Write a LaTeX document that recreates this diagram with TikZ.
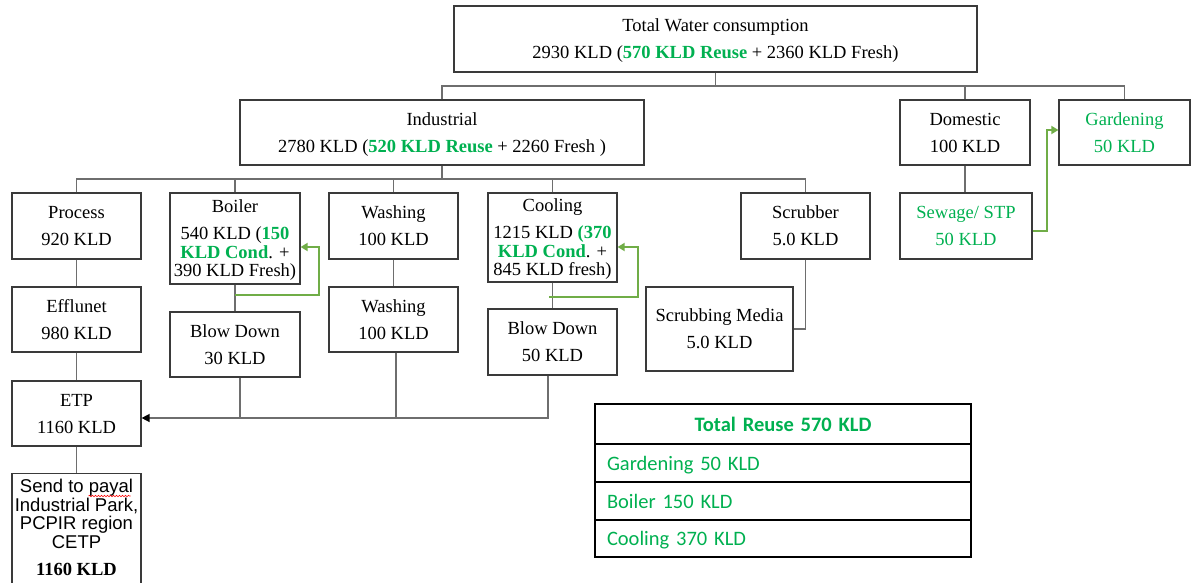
\documentclass[tikz,border=0pt]{standalone}
\usepackage{fontspec}
\setmainfont{Liberation Serif}
\newfontfamily\calibri{Carlito}
\newfontfamily\arial{Liberation Sans}
\usetikzlibrary{arrows.meta,decorations.pathmorphing}

\definecolor{reuse}{HTML}{00B050}
\definecolor{loopgreen}{HTML}{70AD47}
\definecolor{edgegray}{HTML}{3A3A3A}
\definecolor{wiregray}{HTML}{6E6E6E}

\tikzset{
  box/.style={draw=edgegray, line width=1.2pt, align=center, inner sep=0pt,
              text depth=0pt, font=\fontsize{18.5}{18.5}\selectfont},
  wire/.style={draw=wiregray, line width=1.4pt},
  loopline/.style={draw=loopgreen, line width=1.8pt,
                   -{Triangle[length=7pt,width=8pt]}},
  trow/.style={draw=black, line width=1.6pt, anchor=north west, outer sep=0pt,
               inner xsep=12pt, inner ysep=0pt, text width=352pt, align=left,
               text depth=0pt, text=reuse,
               font=\calibri\fontsize{20.5}{20.5}\selectfont},
}
\newcommand{\gb}[1]{{\color{reuse}\bfseries #1}}

\begin{document}
\begin{tikzpicture}[x=1pt,y=-1pt]
\useasboundingbox (0,0) rectangle (1194,583);

% ---- top level
\node[box, minimum width=523, minimum height=66] (top) at (715.5,39)
  {Total Water consumption\\[8.5pt]2930 KLD (\gb{570 KLD Reuse} + 2360 KLD Fresh)};

% ---- second level
\node[box, minimum width=404, minimum height=65] (ind) at (442,132.5)
  {Industrial\\[8.5pt]2780 KLD (\gb{520 KLD Reuse} + 2260 Fresh )};
\node[box, minimum width=130, minimum height=65] (dom) at (965,132.5)
  {Domestic\\[8.5pt]100 KLD};
\node[box, minimum width=131, minimum height=65, text=reuse] (gard) at (1124.5,132.5)
  {Gardening\\[8.5pt]50 KLD};

% ---- industrial consumers
\node[box, minimum width=129, minimum height=66] (proc) at (76.5,226)
  {Process\\[8.5pt]920 KLD};
\node[box, minimum width=130, minimum height=91] (boil) at (235,238.5)
  {Boiler\\[8.5pt]540 KLD (\gb{150}\\\gb{KLD Cond}. +\\390 KLD Fresh)};
\node[box, minimum width=129, minimum height=66] (wash1) at (393.5,226)
  {Washing\\[8.5pt]100 KLD};
\node[box, minimum width=129, minimum height=89] (cool) at (552.5,237.5)
  {Cooling\\[8.5pt]1215 KLD \gb{(370}\\\gb{KLD Cond}. +\\845 KLD fresh)};
\node[box, minimum width=129, minimum height=66] (scrub) at (805.5,226)
  {Scrubber\\[8.5pt]5.0 KLD};
\node[box, minimum width=132, minimum height=66, text=reuse] (sew) at (966,226)
  {Sewage/ STP\\[8.5pt]50 KLD};

% ---- outputs
\node[box, minimum width=129, minimum height=65] (eff) at (76.5,319.5)
  {Efflunet\\[8.5pt]980 KLD};
\node[box, minimum width=130, minimum height=65] (blow1) at (235,344.5)
  {Blow Down\\[8.5pt]30 KLD};
\node[box, minimum width=129, minimum height=65] (wash2) at (393.5,319.5)
  {Washing\\[8.5pt]100 KLD};
\node[box, minimum width=129, minimum height=66] (blow2) at (552.5,342)
  {Blow Down\\[8.5pt]50 KLD};
\node[box, minimum width=147, minimum height=84] (media) at (719.5,329)
  {Scrubbing Media\\[8.5pt]5.0 KLD};
\node[box, minimum width=129, minimum height=65] (etp) at (76.5,413.5)
  {ETP\\[8.5pt]1160 KLD};

% ---- disposal box (runs off the lower edge)
\node[box, minimum width=129, minimum height=130, anchor=north] (sendbox) at (76.5,473) {};
\node[anchor=north, align=center, inner sep=0pt,
      font=\arial\fontsize{18.5}{18.5}\selectfont] (sendtxt) at (76.5,479)
  {Send to payal\\Industrial Park,\\PCPIR region\\CETP\\[9pt]%
   {\rmfamily\bfseries 1160 KLD}};
\draw[red, line width=0.6pt, decorate,
      decoration={snake, amplitude=0.7pt, segment length=3pt}]
  ([xshift=12pt,yshift=-17pt]sendtxt.north) -- ([xshift=54pt,yshift=-17pt]sendtxt.north);

% ---- tree connectors
\coordinate (busA) at (0,86);
\coordinate (busB) at (0,179);
\coordinate (col) at (0,418);
\draw[wire] (top.south) -- (top.south |- busA);
\draw[wire] (ind.north) |- (gard.north |- busA) -- (gard.north);
\draw[wire] (dom.north) -- (dom.north |- busA);

\draw[wire] (ind.south) -- (ind.south |- busB);
\draw[wire] (proc.north) |- (scrub.north |- busB) -- (scrub.north);
\draw[wire] (boil.north) -- (boil.north |- busB);
\draw[wire] (wash1.north) -- (wash1.north |- busB);
\draw[wire] (cool.north) -- (cool.north |- busB);

\draw[wire] (proc.south) -- (eff.north);
\draw[wire] (eff.south) -- (etp.north);
\draw[wire] (etp.south) -- (sendbox.north);
\draw[wire] (boil.south) -- (blow1.north);
\draw[wire] (wash1.south) -- (wash2.north);
\draw[wire] (cool.south) -- (blow2.north);
\draw[wire] (dom.south) -- (dom.south |- sew.north);
\draw[wire] (scrub.south) |- (media.east);

% ---- effluent collector to ETP
\draw[wire, -{Triangle[length=8pt,width=8pt,color=black]}]
  ([xshift=-4.5pt]blow2.south) |- (etp.east |- col);
\draw[wire] ([xshift=5pt]blow1.south) -- ([xshift=5pt]blow1.south |- col);
\draw[wire] ([xshift=2.5pt]wash2.south) -- ([xshift=2.5pt]wash2.south |- col);

% ---- condensate / treated water reuse loops
\draw[loopline] ([yshift=-10pt]boil.south) -- ++(84,0) |- ([yshift=-8.5pt]boil.east);
\draw[loopline] ([xshift=-3.5pt,yshift=-14pt]cool.south) -- ++(89,0) |- ([yshift=-9.5pt]cool.east);
\draw[loopline] ([yshift=-5pt]sew.east) -- ++(14,0) |- ([yshift=2.5pt]gard.west);

% ---- reuse summary table
\node[trow, minimum height=40, align=center] (r0) at (595,404) {\bfseries Total Reuse 570 KLD};
\node[trow, minimum height=38] (r1) at (r0.south west) {Gardening 50 KLD};
\node[trow, minimum height=38] (r2) at (r1.south west) {Boiler 150 KLD};
\node[trow, minimum height=37] (r3) at (r2.south west) {Cooling 370 KLD};
\end{tikzpicture}
\end{document}
